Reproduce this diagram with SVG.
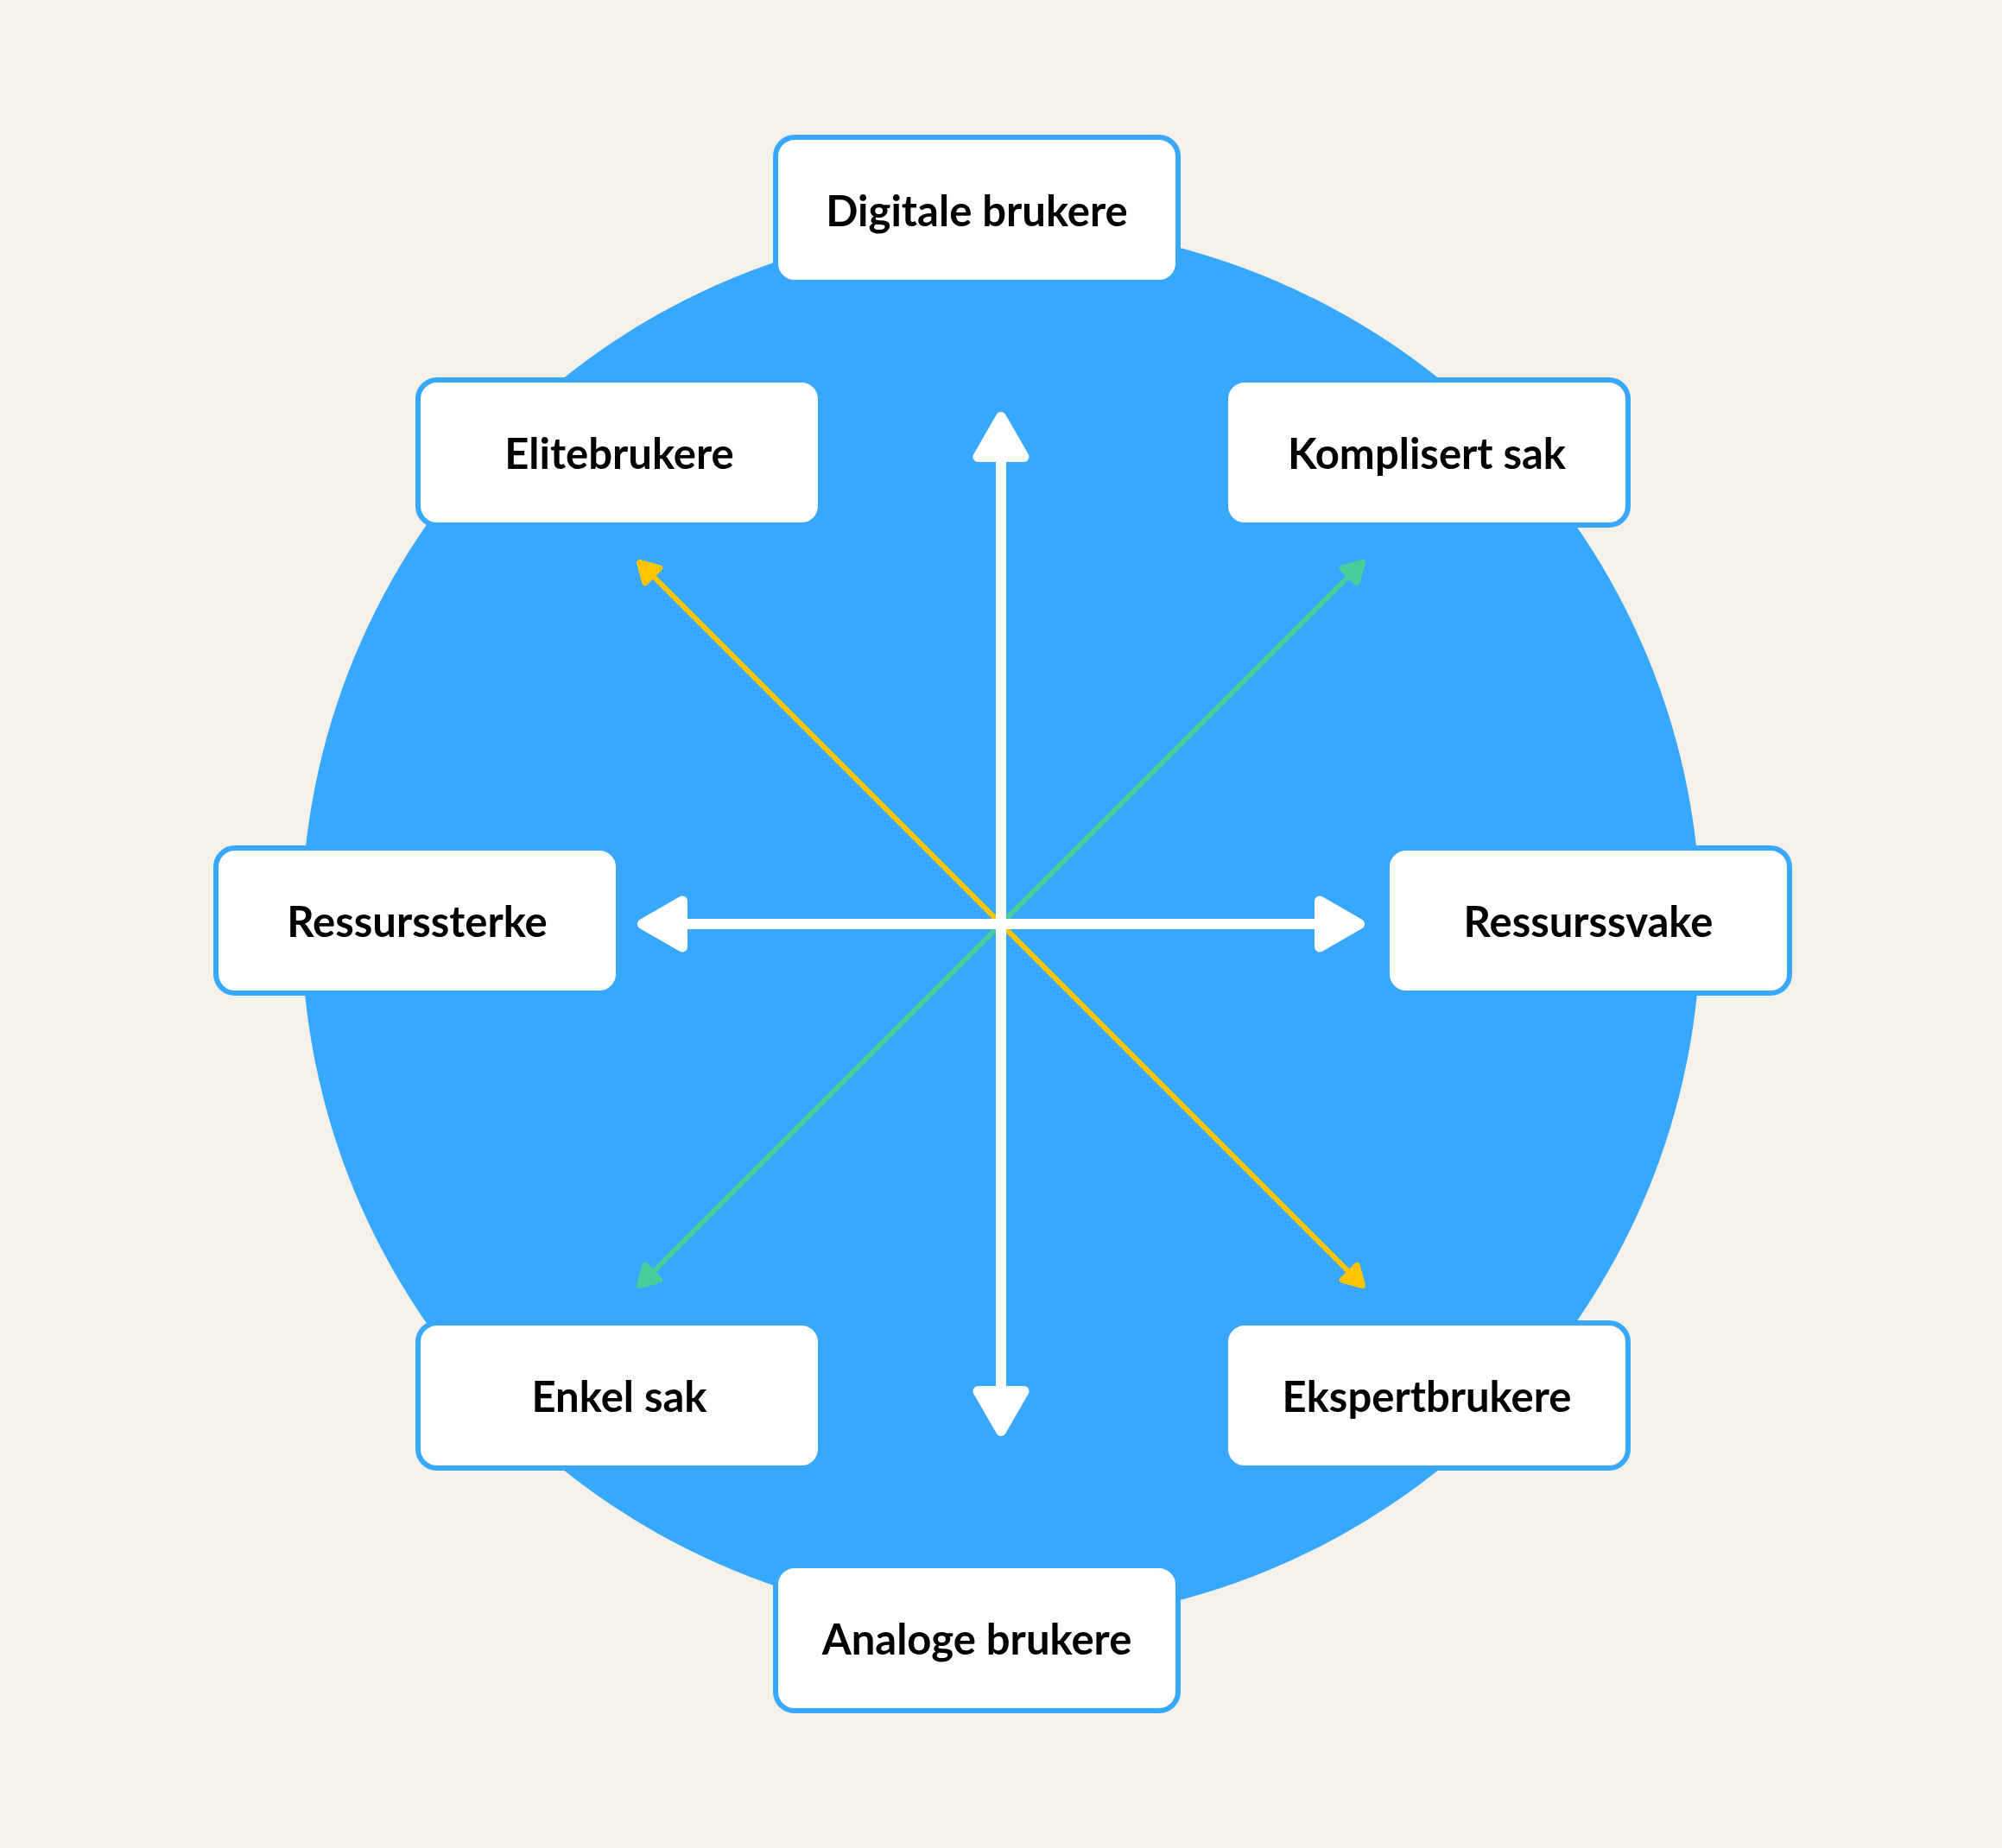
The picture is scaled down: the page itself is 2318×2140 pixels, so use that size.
<svg xmlns="http://www.w3.org/2000/svg" xmlns:xlink="http://www.w3.org/1999/xlink" width="2318" height="2140" viewBox="0 0 2318 2140">
<style>
.box{fill:#fff;stroke:#37A8FD;stroke-width:6}
.lbl{font-family:Lato,"Liberation Sans","DejaVu Sans",sans-serif;font-weight:700;font-size:49px;fill:#000;text-anchor:middle}
.wline{stroke:#fff;stroke-width:12;fill:none}
.yline{stroke:#FFC400;stroke-width:6;fill:none}
.gline{stroke:#48CE9A;stroke-width:6;fill:none}
</style>
<defs>
<polygon id="ahBig" points="0,6 -26.5,52 26.5,52" fill="#fff" stroke="#fff" stroke-width="12" stroke-linejoin="round"/>
<polygon id="ahY" points="0,3.5 -12,24.5 12,24.5" fill="#FFC400" stroke="#FFC400" stroke-width="7" stroke-linejoin="round"/>
<polygon id="ahG" points="0,3.5 -12,24.5 12,24.5" fill="#48CE9A" stroke="#48CE9A" stroke-width="7" stroke-linejoin="round"/>
</defs>
<rect x="0" y="0" width="2318" height="2140" fill="#F4F0EA"/>
<circle id="bg-circle" cx="1159" cy="1070" r="810" fill="#37A8FD"/>
<g id="connectors">
<line class="yline" x1="752" y1="663" x2="1566" y2="1477"/>
<line class="gline" x1="1566" y1="663" x2="752" y2="1477"/>
<use xlink:href="#ahY" href="#ahY" transform="translate(738,649) rotate(-45)"/>
<use xlink:href="#ahY" href="#ahY" transform="translate(1580,1491) rotate(135)"/>
<use xlink:href="#ahG" href="#ahG" transform="translate(1580,649) rotate(45)"/>
<use xlink:href="#ahG" href="#ahG" transform="translate(738,1491) rotate(-135)"/>
<line class="wline" x1="1159" y1="530" x2="1159" y2="1610"/>
<line class="wline" x1="790" y1="1070" x2="1528" y2="1070"/>
<use xlink:href="#ahBig" href="#ahBig" transform="translate(1159,477)"/>
<use xlink:href="#ahBig" href="#ahBig" transform="translate(1159,1663) rotate(180)"/>
<use xlink:href="#ahBig" href="#ahBig" transform="translate(738,1070) rotate(-90)"/>
<use xlink:href="#ahBig" href="#ahBig" transform="translate(1580,1070) rotate(90)"/>
</g>
<g id="node-digitale">
<rect class="box" x="898" y="159" width="466" height="168" rx="22"/>
<text class="lbl" x="1131" y="262">Digitale brukere</text>
</g>
<g id="node-elite">
<rect class="box" x="484" y="440" width="466" height="168" rx="22"/>
<text class="lbl" x="717" y="543">Elitebrukere</text>
</g>
<g id="node-komplisert">
<rect class="box" x="1419" y="440" width="466" height="168" rx="22"/>
<text class="lbl" x="1652" y="543">Komplisert sak</text>
</g>
<g id="node-ressurssterke">
<rect class="box" x="250" y="982" width="466" height="168" rx="22"/>
<text class="lbl" x="483" y="1085">Ressurssterke</text>
</g>
<g id="node-ressurssvake">
<rect class="box" x="1606" y="982" width="466" height="168" rx="22"/>
<text class="lbl" x="1839" y="1085">Ressurssvake</text>
</g>
<g id="node-enkel">
<rect class="box" x="484" y="1532" width="466" height="168" rx="22"/>
<text class="lbl" x="717" y="1635">Enkel sak</text>
</g>
<g id="node-ekspert">
<rect class="box" x="1419" y="1532" width="466" height="168" rx="22"/>
<text class="lbl" x="1652" y="1635">Ekspertbrukere</text>
</g>
<g id="node-analoge">
<rect class="box" x="898" y="1813" width="466" height="168" rx="22"/>
<text class="lbl" x="1131" y="1916">Analoge brukere</text>
</g>
</svg>
